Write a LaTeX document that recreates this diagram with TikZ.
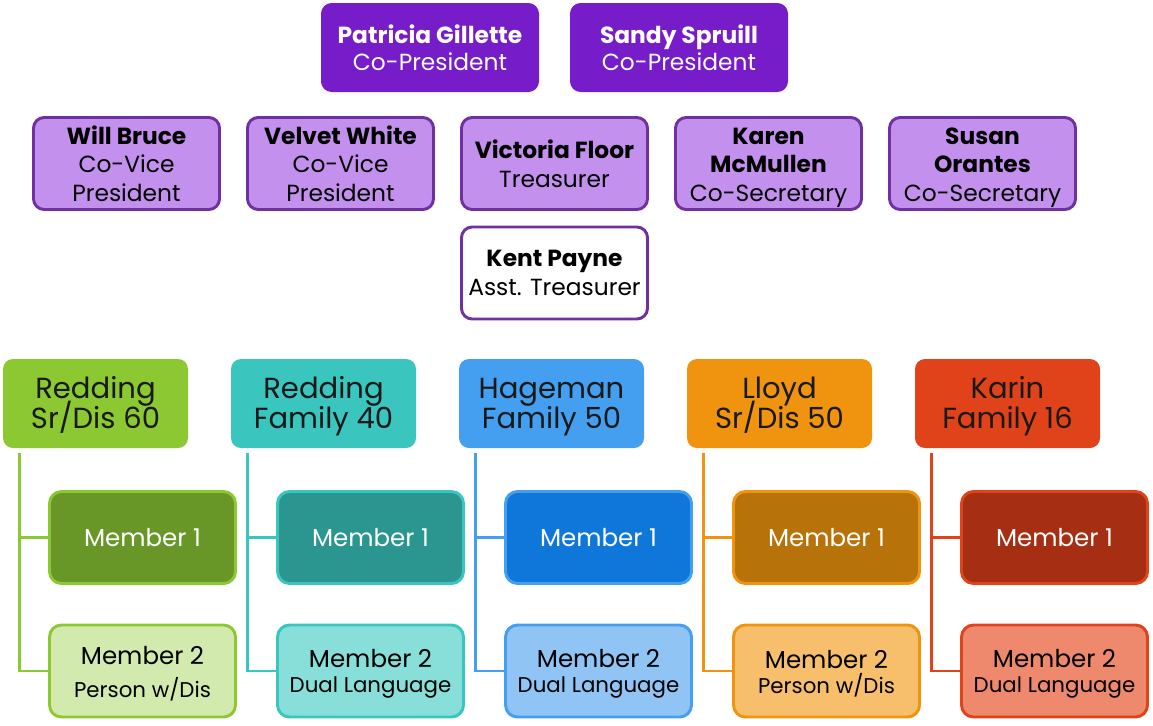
\documentclass[tikz,border=0pt]{standalone}
\usepackage{fontspec}
\setmainfont{Poppins}
\usetikzlibrary{calc}
\definecolor{cTop}{HTML}{761CC8}
\definecolor{cMid}{HTML}{C390EE}
\definecolor{cMidB}{HTML}{7030A0}
\definecolor{gA}{HTML}{8BC832}\definecolor{gB}{HTML}{689728}\definecolor{gC}{HTML}{D3EAAE}
\definecolor{tA}{HTML}{3BC5BF}\definecolor{tB}{HTML}{2A968F}\definecolor{tC}{HTML}{88DED8}
\definecolor{bA}{HTML}{459FF0}\definecolor{bB}{HTML}{0F77DA}\definecolor{bC}{HTML}{8FC4F5}
\definecolor{oA}{HTML}{F0940F}\definecolor{oB}{HTML}{B7720A}\definecolor{oC}{HTML}{F7BF6C}
\definecolor{rA}{HTML}{E04319}\definecolor{rB}{HTML}{A62E12}\definecolor{rC}{HTML}{EF896D}
\newcommand{\fs}[2]{\fontsize{#1}{#2}\selectfont\lineskiplimit=-30pt\lineskip=0pt\relax}
\newcommand{\hl}{\vphantom{Ady}}
\newcommand{\hu}{\rule{0pt}{21pt}}
\tikzset{
  every node/.style={align=center, inner sep=0pt},
  topbox/.style={fill=cTop, rounded corners=8pt, minimum width=163.5pt, minimum height=66.75pt,
     text=white, font=\fs{17.5}{20}},
  midbox/.style={fill=#1, draw=cMidB, line width=2.2pt, rounded corners=8pt, minimum width=139.5pt,
     minimum height=69pt, text=black, font=\fs{17.5}{21.4}},
  midbox/.default=cMid,
  headbox/.style={fill=#1, rounded corners=7.5pt, minimum width=138.75pt, minimum height=66.75pt,
     text=black!90, font=\fs{21.8}{22.5}},
  memA/.style={fill=#1, rounded corners=9pt, minimum width=139.5pt, minimum height=69pt,
     line width=2.2pt, text=white, font=\fs{18.4}{20}},
  memB/.style={fill=#1, rounded corners=9pt, minimum width=139.5pt, minimum height=69pt,
     line width=2.2pt, text=black, font=\fs{18.4}{19}},
  conn/.style={line width=2.2pt},
}
\newcommand{\subl}[1]{{\fs{16}{19}#1}}
\newcommand{\up}{\rule{0pt}{18pt}}
\begin{document}
\begin{tikzpicture}[x=0.75pt,y=-0.75pt]
\useasboundingbox (0,0) rectangle (1153,725);
% top
\node[topbox] (pg) at (430,47.5) {\textbf{Patricia Gillette}\\Co-President};
\node[topbox] (ss) at (679,47.5) {\textbf{Sandy Spruill}\\Co-President};
% row 2
\node[midbox] (wb) at (126.5,163.5) {\textbf{Will Bruce}\\Co-Vice\\President};
\node[midbox] (vw) at (340.5,163.5) {\textbf{Velvet White}\\Co-Vice\\President};
\node[midbox] (vf) at (554.5,163.5) {\textbf{Victoria Floor}\\Treasurer};
\node[midbox] (km) at (768.5,163.5) {\rule{0pt}{18.5pt}\textbf{Karen}\\\textbf{McMullen}\\Co-Secretary};
\node[midbox] (so) at (982.5,163.5) {\rule{0pt}{18.5pt}\textbf{Susan}\\\textbf{Orantes}\\Co-Secretary};
\node[midbox=white] (kp) at (554.5,273) {\textbf{Kent Payne}\\Asst. Treasurer};
% headers
\node[headbox=gA] (h1) at (95.5,403.5) {\hu Redding\\Sr/Dis 60\hl};
\node[headbox=tA] (h2) at (323.5,403.5) {\hu Redding\\Family 40\hl};
\node[headbox=bA] (h3) at (551.5,403.5) {\hu Hageman\\Family 50\hl};
\node[headbox=oA] (h4) at (779.5,403.5) {\hu Lloyd\\Sr/Dis 50\hl};
\node[headbox=rA] (h5) at (1007.5,403.5) {\hu Karin\\Family 16\hl};
% members
\node[memA=gB, draw=gA] (a1) at (142.5,537.5) {Member 1};
\node[memA=tB, draw=tA] (a2) at (370.5,537.5) {Member 1};
\node[memA=bB, draw=bA] (a3) at (598.5,537.5) {Member 1};
\node[memA=oB, draw=oA] (a4) at (826.5,537.5) {Member 1};
\node[memA=rB, draw=rA] (a5) at (1054.5,537.5) {Member 1};
\node[memB=gC, draw=gA] (b1) at (142.5,671) {\up Member 2\\[6pt]\subl{Person w/Dis}};
\node[memB=tC, draw=tA] (b2) at (370.5,671) {\up Member 2\\\subl{Dual Language}};
\node[memB=bC, draw=bA] (b3) at (598.5,671) {\up Member 2\\\subl{Dual Language}};
\node[memB=oC, draw=oA] (b4) at (826.5,671) {\up Member 2\\\subl{Person w/Dis}};
\node[memB=rC, draw=rA] (b5) at (1054.5,671) {\up Member 2\\\subl{Dual Language}};
% connectors
\foreach \i/\c in {1/gA,2/tA,3/bA,4/oA,5/rA}{
  \coordinate (s\i) at ($(h\i.south west)+(17,5)$);
  \draw[conn, draw=\c] (s\i) |- (b\i.west);
  \draw[conn, draw=\c] (s\i) |- (a\i.west);
}
\end{tikzpicture}
\end{document}
